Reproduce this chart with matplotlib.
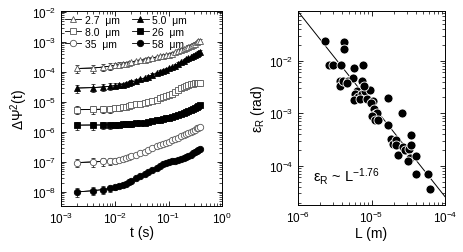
"""
Rotational diffusion: mean-square angular displacement vs lag time (left)
and the rotation noise amplitude vs particle size (right).
"""
import matplotlib
matplotlib.use("Agg")
import matplotlib.pyplot as plt
from matplotlib.ticker import LogLocator, NullFormatter
import numpy as np

# ── Left panel: ΔΨ²(t) for six particle sizes ────────────────────────────────
t_s = [0.002, 0.004, 0.006, 0.008, 0.010, 0.012, 0.014, 0.016, 0.018, 0.020,
       0.025, 0.030, 0.036, 0.042, 0.050, 0.060, 0.070, 0.080, 0.090, 0.100,
       0.115, 0.130, 0.150, 0.170, 0.190, 0.210, 0.235, 0.260, 0.285, 0.310,
       0.335, 0.360, 0.380]

msd_2p7 = [1.30e-4, 1.35e-4, 1.45e-4, 1.55e-4, 1.65e-4, 1.75e-4, 1.85e-4, 1.90e-4,
           2.00e-4, 2.10e-4, 2.25e-4, 2.40e-4, 2.55e-4, 2.70e-4, 2.90e-4, 3.10e-4,
           3.30e-4, 3.50e-4, 3.65e-4, 3.80e-4, 4.10e-4, 4.50e-4, 5.00e-4, 5.40e-4,
           5.80e-4, 6.20e-4, 6.80e-4, 7.40e-4, 8.10e-4, 8.80e-4, 9.60e-4, 1.05e-3,
           1.10e-3]
msd_5p0 = [2.90e-5, 3.00e-5, 3.15e-5, 3.30e-5, 3.50e-5, 3.65e-5, 3.80e-5, 4.00e-5,
           4.30e-5, 4.60e-5, 5.10e-5, 5.60e-5, 6.20e-5, 7.00e-5, 7.90e-5, 9.00e-5,
           1.00e-4, 1.10e-4, 1.20e-4, 1.30e-4, 1.45e-4, 1.60e-4, 1.85e-4, 2.10e-4,
           2.35e-4, 2.60e-4, 2.85e-4, 3.10e-4, 3.40e-4, 3.70e-4, 4.00e-4, 4.40e-4,
           4.70e-4]
msd_8p0 = [5.50e-6, 5.60e-6, 5.70e-6, 5.90e-6, 6.10e-6, 6.30e-6, 6.60e-6, 6.90e-6,
           7.30e-6, 7.80e-6, 8.30e-6, 8.80e-6, 9.30e-6, 1.00e-5, 1.10e-5, 1.20e-5,
           1.35e-5, 1.50e-5, 1.60e-5, 1.70e-5, 1.90e-5, 2.15e-5, 2.50e-5, 2.80e-5,
           3.10e-5, 3.35e-5, 3.65e-5, 3.90e-5, 4.10e-5, 4.25e-5, 4.35e-5, 4.40e-5,
           4.40e-5]
msd_26 = [1.68e-6, 1.70e-6, 1.70e-6, 1.72e-6, 1.74e-6, 1.76e-6, 1.78e-6, 1.80e-6,
          1.83e-6, 1.86e-6, 1.92e-6, 1.98e-6, 2.05e-6, 2.10e-6, 2.25e-6, 2.40e-6,
          2.55e-6, 2.70e-6, 2.80e-6, 2.90e-6, 3.10e-6, 3.35e-6, 3.65e-6, 4.00e-6,
          4.30e-6, 4.60e-6, 5.00e-6, 5.50e-6, 5.90e-6, 6.40e-6, 6.90e-6, 7.40e-6,
          7.80e-6]
msd_35 = [9.50e-8, 1.00e-7, 1.04e-7, 1.07e-7, 1.10e-7, 1.18e-7, 1.25e-7, 1.35e-7,
          1.45e-7, 1.55e-7, 1.75e-7, 1.95e-7, 2.20e-7, 2.50e-7, 2.90e-7, 3.30e-7,
          3.70e-7, 4.00e-7, 4.30e-7, 4.60e-7, 5.20e-7, 5.80e-7, 6.50e-7, 7.10e-7,
          7.70e-7, 8.40e-7, 9.20e-7, 1.00e-6, 1.10e-6, 1.20e-6, 1.30e-6, 1.40e-6,
          1.45e-6]
msd_58 = [1.00e-8, 1.10e-8, 1.20e-8, 1.30e-8, 1.45e-8, 1.60e-8, 1.75e-8, 1.90e-8,
          2.10e-8, 2.30e-8, 2.80e-8, 3.30e-8, 3.90e-8, 4.60e-8, 5.50e-8, 6.50e-8,
          7.50e-8, 8.50e-8, 9.30e-8, 1.00e-7, 1.05e-7, 1.10e-7, 1.15e-7, 1.22e-7,
          1.32e-7, 1.43e-7, 1.58e-7, 1.75e-7, 1.92e-7, 2.10e-7, 2.30e-7, 2.50e-7,
          2.60e-7]

# relative error bars (only visible on the sparse early points)
rel_err = [0.30, 0.30, 0.28, 0.25, 0.20, 0.18, 0.16, 0.15, 0.14, 0.13,
           0.12, 0.12, 0.12, 0.12, 0.12, 0.12, 0.12, 0.12, 0.12, 0.12,
           0.12, 0.12, 0.12, 0.12, 0.12, 0.12, 0.12, 0.12, 0.12, 0.12,
           0.12, 0.12, 0.12]

series_labels = ["2.7  μm", "5.0  μm", "8.0  μm", "26  μm", "35  μm", "58  μm"]
series_values = [msd_2p7, msd_5p0, msd_8p0, msd_26, msd_35, msd_58]
series_markers = ["^", "^", "s", "s", "o", "o"]
series_filled = [False, True, False, True, False, True]

# ── Right panel: ε_R vs particle size L ──────────────────────────────────────
size_m = [2.34e-6, 4.2e-6, 4.2e-6, 2.63e-6, 3.0e-6, 3.8e-6, 5.85e-6, 7.55e-6,
          3.7e-6, 3.7e-6, 4.1e-6, 4.83e-6, 5.5e-6, 4.7e-6, 7.5e-6, 6.3e-6,
          6.0e-6, 6.6e-6, 5.85e-6, 7.4e-6, 8.2e-6, 9.4e-6, 7.8e-6, 6.9e-6,
          8.7e-6, 1.05e-5, 9.7e-6, 1.07e-5, 1.13e-5, 1.19e-5, 1.01e-5, 1.13e-5,
          1.22e-5, 1.66e-5, 2.59e-5, 1.67e-5, 1.86e-5, 1.98e-5, 2.15e-5, 2.16e-5,
          2.3e-5, 2.65e-5, 2.85e-5, 3.2e-5, 3.4e-5, 3.35e-5, 3.1e-5, 3.4e-5,
          4.07e-5, 4.0e-5, 5.9e-5, 6.3e-5]
eps_rad = [0.0234, 0.0224, 0.0166, 0.0084, 0.0083, 0.0083, 0.0072, 0.0084,
           0.0042, 0.0033, 0.0041, 0.0042, 0.0047, 0.0037, 0.0042, 0.0027,
           0.0023, 0.0020, 0.0018, 0.0023, 0.0027, 0.0028, 0.0033, 0.0019,
           0.0019, 0.00175, 0.0016, 0.00122, 0.00098, 0.00102, 0.00087, 0.00073,
           0.00073, 0.00194, 0.00102, 0.00059, 0.00032, 0.000265, 0.00031, 0.000245,
           0.000159, 0.000229, 0.0002, 0.00021, 0.000245, 0.000141, 0.000123, 0.00038,
           0.000156, 7.0e-5, 7.0e-5, 3.7e-5]

fit_exponent = -1.76
fit_eps_at_1um = 0.086      # value of the fitted power law at L = 1 µm
fit_range = [1e-6, 1e-4]

plt.rcParams.update({
    "font.family": ["Liberation Sans", "DejaVu Sans"],
    "mathtext.fontset": "custom",
    "mathtext.rm": "Liberation Sans",
    "mathtext.it": "Liberation Sans:italic",
    "mathtext.sf": "Liberation Sans",
    "xtick.direction": "in",
    "ytick.direction": "in",
    "xtick.top": True,
    "ytick.right": True,
    "xtick.major.size": 3.5,
    "ytick.major.size": 3.5,
    "xtick.minor.size": 2,
    "ytick.minor.size": 2,
    "xtick.major.width": 0.6,
    "ytick.major.width": 0.6,
    "xtick.minor.width": 0.5,
    "ytick.minor.width": 0.5,
    "axes.linewidth": 0.7,
    "xtick.labelsize": 8.5,
    "ytick.labelsize": 8.5,
})

fig = plt.figure(figsize=(4.63, 2.53), dpi=100)
ax1 = fig.add_axes([0.132, 0.182, 0.348, 0.771])
ax2 = fig.add_axes([0.644, 0.186, 0.317, 0.767])


def _log_ticks(ax):
    for axis in (ax.xaxis, ax.yaxis):
        axis.set_major_locator(LogLocator(base=10, numticks=20))
        axis.set_minor_locator(LogLocator(base=10, subs=np.arange(2, 10), numticks=50))
        axis.set_minor_formatter(NullFormatter())


# left panel
t_arr = np.array(t_s)
err = np.array(rel_err)
for label, vals, mk, filled in zip(series_labels, series_values,
                                   series_markers, series_filled):
    y = np.array(vals)
    face = "black" if filled else "white"
    edge = "black" if filled else "#555555"
    ax1.errorbar(t_arr, y, yerr=y * err, fmt="-", color="black", lw=0.6,
                 elinewidth=0.5, capsize=1.5, capthick=0.5, zorder=1)
    ax1.plot(t_arr, y, linestyle="-", color="black", lw=0.6, marker=mk,
             markersize=4.6, markerfacecolor=face, markeredgecolor=edge,
             markeredgewidth=0.6, label=label, zorder=2)

ax1.set_xscale("log")
ax1.set_yscale("log")
ax1.set_xlim(1e-3, 1)
ax1.set_ylim(3.4e-9, 1.08e-2)
_log_ticks(ax1)
ax1.set_xlabel("t (s)", fontsize=10, labelpad=-1)
ax1.set_ylabel(r"$\Delta\Psi^2$(t)", fontsize=10, labelpad=1)

handles, labels = ax1.get_legend_handles_labels()
order = [0, 2, 4, 1, 3, 5]
ax1.legend([handles[i] for i in order], [labels[i] for i in order],
           ncol=2, loc="upper left", frameon=False, fontsize=7.5,
           handlelength=1.6, handletextpad=0.3, columnspacing=1.2,
           labelspacing=0.2, borderaxespad=0.15, borderpad=0.2)

# right panel
ax2.scatter(size_m, eps_rad, s=42, c="black", edgecolors="white",
            linewidths=0.6, zorder=3)
L_fit = np.array(fit_range)
ax2.plot(L_fit, fit_eps_at_1um * (L_fit / 1e-6) ** fit_exponent,
         color="black", lw=0.7, zorder=2)
ax2.set_xscale("log")
ax2.set_yscale("log")
ax2.set_xlim(1e-6, 1e-4)
ax2.set_ylim(1.8e-5, 8.9e-2)
_log_ticks(ax2)
ax2.set_xlabel("L (m)", fontsize=10, labelpad=1)
ax2.set_ylabel(r"ε$_\mathregular{R}$ (rad)", fontsize=10, labelpad=1)
ax2.text(0.10, 0.15, r"ε$_\mathregular{R}$ ~ L$^\mathregular{-1.76}$",
         transform=ax2.transAxes, fontsize=10.5, ha="left", va="center")

fig.savefig("out.png", dpi=100)
plt.close(fig)
